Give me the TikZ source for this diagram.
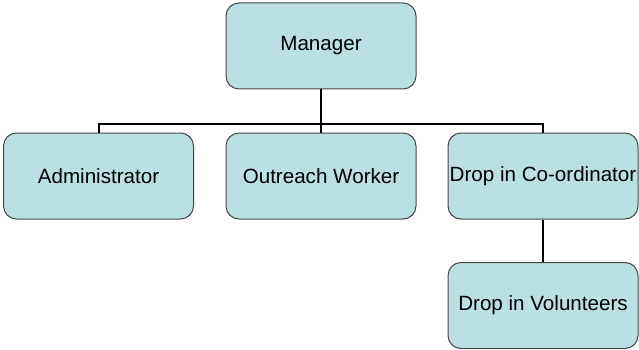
\documentclass[tikz,border=0pt]{standalone}
\usepackage{fontspec}
\setmainfont{Liberation Sans}
\definecolor{boxfill}{RGB}{187,224,227}
\definecolor{boxline}{RGB}{70,70,70}

\begin{document}
\begin{tikzpicture}[x=1pt,y=-1pt, font=\fontsize{20.6}{23}\selectfont,
  post/.style={draw=boxline, line width=1pt, fill=boxfill, rounded corners=13pt,
    minimum width=190pt, minimum height=86pt, inner sep=0pt},
  link/.style={line width=2pt}]

\useasboundingbox (0,0) rectangle (639,350);

\node[post] (manager)    at (321,46)    {Manager};
\node[post] (admin)      at (98.5,176)  {Administrator};
\node[post] (outreach)   at (321,176)   {Outreach Worker};
\node[post] (dropcoord)  at (543,176)   {Drop in Co-ordinator};
\node[post] (volunteers) at (543,305.5) {Drop in Volunteers};

\coordinate (bus) at (321,124);

\draw[link] (manager.south) -- (outreach.north);
\draw[link] (admin.north) |- (bus) -| (dropcoord.north);
\draw[line width=1.3pt] (dropcoord.south) -- (volunteers.north);

\end{tikzpicture}
\end{document}
